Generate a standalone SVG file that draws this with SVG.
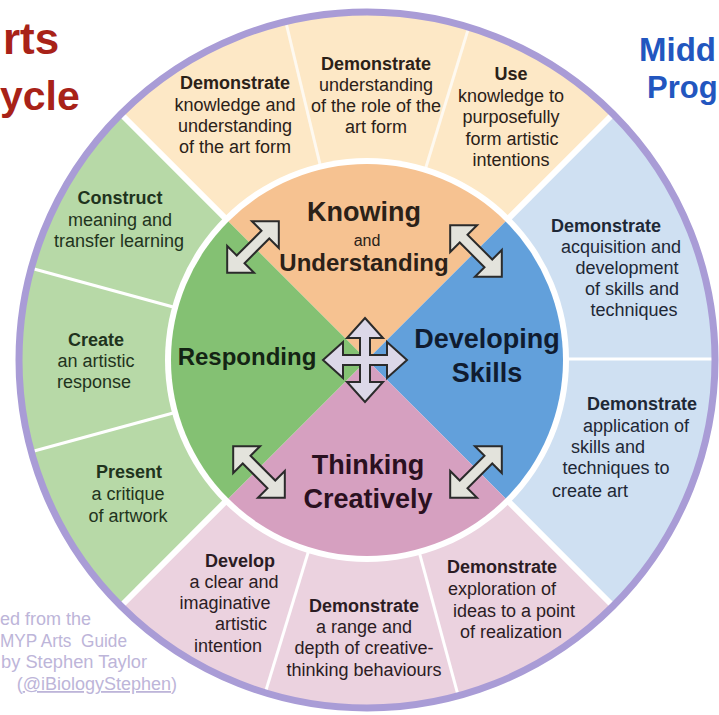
<svg xmlns="http://www.w3.org/2000/svg" xmlns:xlink="http://www.w3.org/1999/xlink" width="719" height="715" viewBox="0 0 719 715">
<style>
text{font-family:"Liberation Sans",Arial,sans-serif;text-anchor:middle}
.b{font-weight:bold;font-size:18px}
.r{font-size:18px}
.tk{fill:#2b2118}
.ts{fill:#1e2836}
.tt{fill:#2b1c24}
.tr{fill:#1f331d}
.big{font-weight:bold}
.div{stroke:#fff;stroke-width:6}
.sub{stroke:#fff;stroke-width:3}
.arr{fill:#e3e3dc;stroke:#2b2b2b;stroke-width:2;stroke-linejoin:miter}
.cr{fill:#bdb5d9;font-size:18px;text-anchor:start}
.ttl{text-anchor:start;font-weight:bold}
</style>
<defs>
<path id="dbl" d="M-36.5,0 L-17.5,-19 L-17.5,-5.5 L17.5,-5.5 L17.5,-19 L36.5,0 L17.5,19 L17.5,5.5 L-17.5,5.5 L-17.5,19 Z"/>
</defs>
<rect width="719" height="715" fill="#fff"/>

<g id="titles">
<text class="ttl" x="3" y="54" style="font-size:44px;fill:#a82218">rts</text>
<text class="ttl" x="0" y="110" style="font-size:41px;fill:#a82218">ycle</text>
<text class="ttl" x="639" y="61" style="font-size:33px;fill:#2256bf">Midd</text>
<text class="ttl" x="647" y="98" style="font-size:31px;fill:#2256bf">Prog</text>
</g>

<g id="credit">
<text class="cr" x="0" y="625">ed from the</text>
<text class="cr" x="0" y="647" xml:space="preserve" textLength="127" lengthAdjust="spacingAndGlyphs">MYP Arts  Guide</text>
<text class="cr" x="1" y="668" textLength="146" lengthAdjust="spacingAndGlyphs">by Stephen Taylor</text>
<text class="cr" x="177" y="690" style="text-anchor:end">(<tspan text-decoration="underline">@iBiologyStephen</tspan>)</text>
</g>

<g id="outer-ring">
<path d="M367 360 L122.3 115.3 A346 346 0 0 1 611.7 115.3 Z" fill="#fde8c6"/>
<path d="M367 360 L611.7 115.3 A346 346 0 0 1 611.7 604.7 Z" fill="#cfe0f2"/>
<path d="M367 360 L611.7 604.7 A346 346 0 0 1 122.3 604.7 Z" fill="#ebd2df"/>
<path d="M367 360 L122.3 604.7 A346 346 0 0 1 122.3 115.3 Z" fill="#b7d9a7"/>
<line class="sub" x1="367" y1="360" x2="286.2" y2="23.5" style="opacity:.75"/>
<line class="sub" x1="367" y1="360" x2="468.2" y2="29.1" style="opacity:.75"/>
<line class="sub" x1="367" y1="359" x2="716" y2="359"/>
<line class="sub" x1="367" y1="360" x2="457.7" y2="693.9"/>
<line class="sub" x1="367" y1="360" x2="265.8" y2="690.9"/>
<line class="sub" x1="367" y1="360" x2="33.2" y2="451.3"/>
<line class="sub" x1="367" y1="360" x2="33.2" y2="268.7"/>
<line class="div" x1="367" y1="360" x2="120" y2="113"/>
<line class="div" x1="367" y1="360" x2="614" y2="113"/>
<line class="div" x1="367" y1="360" x2="614" y2="607"/>
<line class="div" x1="367" y1="360" x2="120" y2="607"/>
<circle cx="367" cy="360" r="348" fill="none" stroke="#a99cd6" stroke-width="7"/>
<circle cx="367" cy="360" r="202" fill="#fff"/>
</g>

<g id="know-1">
<text class="b tk" x="235" y="89">Demonstrate</text>
<text class="r tk" x="235" y="111">knowledge and</text>
<text class="r tk" x="235" y="132">understanding</text>
<text class="r tk" x="235" y="153">of the art form</text>
</g>
<g id="know-2">
<text class="b tk" x="376" y="70">Demonstrate</text>
<text class="r tk" x="376" y="91">understanding</text>
<text class="r tk" x="376" y="112">of the role of the</text>
<text class="r tk" x="376" y="133">art form</text>
</g>
<g id="know-3">
<text class="b tk" x="511" y="80">Use</text>
<text class="r tk" x="511" y="102">knowledge to</text>
<text class="r tk" x="511" y="123">purposefully</text>
<text class="r tk" x="512" y="145">form artistic</text>
<text class="r tk" x="511" y="166">intentions</text>
</g>
<g id="skill-1">
<text class="b ts" x="606" y="232">Demonstrate</text>
<text class="r ts" x="621" y="253">acquisition and</text>
<text class="r ts" x="627" y="274">development</text>
<text class="r ts" x="632" y="295">of skills and</text>
<text class="r ts" x="634" y="316">techniques</text>
</g>
<g id="skill-2">
<text class="b ts" x="642" y="410">Demonstrate</text>
<text class="r ts" x="636" y="432">application of</text>
<text class="r ts" x="608" y="453">skills and</text>
<text class="r ts" x="616" y="474">techniques to</text>
<text class="r ts" x="590" y="497">create art</text>
</g>
<g id="think-1">
<text class="b tt" x="502" y="573">Demonstrate</text>
<text class="r tt" x="502" y="595">exploration of</text>
<text class="r tt" x="514" y="617">ideas to a point</text>
<text class="r tt" x="511" y="638">of realization</text>
</g>
<g id="think-2">
<text class="b tt" x="364" y="612">Demonstrate</text>
<text class="r tt" x="364" y="633">a range and</text>
<text class="r tt" x="364" y="654">depth of creative-</text>
<text class="r tt" x="364" y="676">thinking behaviours</text>
</g>
<g id="think-3">
<text class="b tt" x="240" y="567">Develop</text>
<text class="r tt" x="234" y="588">a clear and</text>
<text class="r tt" x="225" y="609">imaginative</text>
<text class="r tt" x="241" y="630">artistic</text>
<text class="r tt" x="228" y="652">intention</text>
</g>
<g id="resp-1">
<text class="b tr" x="129" y="478">Present</text>
<text class="r tr" x="128" y="500">a critique</text>
<text class="r tr" x="128" y="522">of artwork</text>
</g>
<g id="resp-2">
<text class="b tr" x="96" y="346">Create</text>
<text class="r tr" x="96" y="367">an artistic</text>
<text class="r tr" x="94" y="388">response</text>
</g>
<g id="resp-3">
<text class="b tr" x="120" y="204">Construct</text>
<text class="r tr" x="120" y="226">meaning and</text>
<text class="r tr" x="119" y="247">transfer learning</text>
</g>

<g id="knowing">
<path d="M367 360 L228.4 221.4 A196 196 0 0 1 505.6 221.4 Z" fill="#f6c291"/>
<text class="big tk" x="364" y="221" style="font-size:27px">Knowing</text>
<text class="tk" x="367" y="246" style="font-size:16px">and</text>
<text class="big tk" x="364" y="271" style="font-size:24px">Understanding</text>
</g>
<g id="developing">
<path d="M367 360 L505.6 221.4 A196 196 0 0 1 505.6 498.6 Z" fill="#62a0db"/>
<text class="big" x="487" y="348" style="font-size:27px;fill:#101c30">Developing</text>
<text class="big" x="487" y="382" style="font-size:27px;fill:#101c30">Skills</text>
</g>
<g id="thinking">
<path d="M367 360 L505.6 498.6 A196 196 0 0 1 228.4 498.6 Z" fill="#d6a0c0"/>
<text class="big" x="368" y="474" style="font-size:27px;fill:#2a1020">Thinking</text>
<text class="big" x="368" y="508" style="font-size:27px;fill:#2a1020">Creatively</text>
</g>
<g id="responding">
<path d="M367 360 L228.4 498.6 A196 196 0 0 1 228.4 221.4 Z" fill="#84c173"/>
<text class="big" x="247" y="365" style="font-size:24px;fill:#142414">Responding</text>
</g>

<g id="connectors">
<use xlink:href="#dbl" href="#dbl" class="arr" transform="translate(253 247) rotate(-45)"/>
<use xlink:href="#dbl" href="#dbl" class="arr" transform="translate(476 251) rotate(45)"/>
<use xlink:href="#dbl" href="#dbl" class="arr" transform="translate(259 472) rotate(45)"/>
<use xlink:href="#dbl" href="#dbl" class="arr" transform="translate(476 472) rotate(-45)"/>
<path class="arr" style="fill:#dcd8e8" transform="translate(365 360)" d="M0,-42 L18,-22 L5,-22 L5,-5 L22,-5 L22,-18 L42,0 L22,18 L22,5 L5,5 L5,22 L18,22 L0,42 L-18,22 L-5,22 L-5,5 L-22,5 L-22,18 L-42,0 L-22,-18 L-22,-5 L-5,-5 L-5,-22 L-18,-22 Z"/>
</g>
</svg>
